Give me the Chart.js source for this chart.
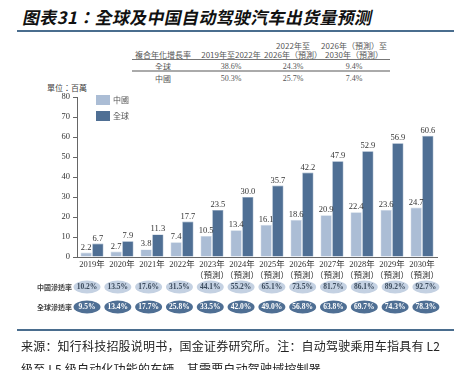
<!DOCTYPE html>
<html>
<head>
<meta charset="utf-8">
<script src="https://cdn.jsdelivr.net/npm/chart.js@4.4.0/dist/chart.umd.min.js"></script>
<style>
body { margin:0; width:454px; height:370px; overflow:hidden; background:#fff; position:relative; font-family:"Noto Sans CJK TC","Noto Sans",sans-serif; }
#wrap { position:absolute; left:0; top:0; width:454px; height:370px; }
.t { position:absolute; white-space:nowrap; color:#555; font-size:8px; line-height:9px; }
.c { transform:translateX(-50%); text-align:center; }
.serif { font-family:"Liberation Serif","Noto Sans CJK TC",serif; }
#title { position:absolute; left:21px; top:4px; font-size:17px; font-weight:bold; color:#111; letter-spacing:0.3px; transform:skewX(-12deg); transform-origin:left bottom; white-space:nowrap; }
.hr { position:absolute; }
#foot { position:absolute; left:21px; top:334px; font-size:12px; color:#222; line-height:23px; letter-spacing:0.2px; white-space:nowrap; font-family:"Noto Sans CJK SC",sans-serif; }
</style>
</head>
<body>
<div id="title">图表31：全球及中国自动驾驶汽车出货量预测</div>
<div class="hr" style="left:17px;top:30px;width:437px;height:2px;background:#4a6d8e;"></div>

<div class="t c" style="left:163px;top:50px;">複合年化增長率</div>
<div class="t c" style="left:231px;top:50px;">2019年至2022年</div>
<div class="t c" style="left:293px;top:41px;">2022年至<br>2026年（預測）</div>
<div class="t c" style="left:354px;top:41px;">2026年（預測）至<br>2030年（預測）</div>
<div class="hr" style="left:132px;top:59px;width:258px;height:1px;background:#777;"></div>
<div class="t c" style="left:163px;top:62px;">全球</div>
<div class="t c serif" style="left:231px;top:62px;">38.6%</div>
<div class="t c serif" style="left:293px;top:62px;">24.3%</div>
<div class="t c serif" style="left:354px;top:62px;">9.4%</div>
<div class="hr" style="left:132px;top:70px;width:258px;height:2px;background:#aaa;"></div>
<div class="t c" style="left:163px;top:74px;">中國</div>
<div class="t c serif" style="left:231px;top:74px;">50.3%</div>
<div class="t c serif" style="left:293px;top:74px;">25.7%</div>
<div class="t c serif" style="left:354px;top:74px;">7.4%</div>
<div class="t" style="left:47px;top:83px;color:#444;">單位：百萬</div>

<div id="wrap"><canvas id="chart" width="454" height="370"></canvas></div>

<div class="hr" style="left:17px;top:329px;width:437px;height:1.5px;background:#4a6d8e;"></div>
<div id="foot">来源：知行科技招股说明书，国金证券研究所。注：自动驾驶乘用车指具有 L2<br>级至 L5 级自动化功能的车辆，其需要自动驾驶域控制器。</div>

<script>
var years = [["2019年"], ["2020年"], ["2021年"], ["2022年"],
    ["2023年", "（預測）"], ["2024年", "（預測）"], ["2025年", "（預測）"], ["2026年", "（預測）"],
    ["2027年", "（預測）"], ["2028年", "（預測）"], ["2029年", "（預測）"], ["2030年", "（預測）"]];
var chinaShip = [2.2, 2.7, 3.8, 7.4, 10.5, 13.4, 16.1, 18.6, 20.9, 22.4, 23.6, 24.7];
var globalShip = [6.7, 7.9, 11.3, 17.7, 23.5, 30.0, 35.7, 42.2, 47.9, 52.9, 56.9, 60.6];
var chinaRate = ["10.2%", "13.5%", "17.6%", "31.5%", "44.1%", "55.2%", "65.1%", "73.5%", "81.7%", "86.1%", "89.2%", "92.7%"];
var globalRate = ["9.5%", "13.4%", "17.7%", "25.8%", "33.5%", "42.0%", "49.0%", "56.8%", "63.8%", "69.7%", "74.3%", "78.3%"];
var seriesNames = ["中國", "全球"];

var lightBlue = "#abbdd5";
var darkBlue = "#4f6f94";
var serif = "'Liberation Serif', 'Noto Sans CJK TC', serif";

var extras = {
    id: 'extras',
    afterDatasetsDraw: function(chart) {
        var ctx = chart.ctx;
        ctx.save();
        // value labels
        ctx.font = "8.5px " + serif;
        ctx.fillStyle = "#333";
        ctx.textAlign = "center";
        ctx.textBaseline = "bottom";
        chart.data.datasets.forEach(function(ds, di) {
            chart.getDatasetMeta(di).data.forEach(function(bar, i) {
                ctx.fillText(ds.data[i].toFixed(1), bar.x, bar.y - 1);
            });
        });
        // legend
        var colors = [lightBlue, darkBlue];
        ctx.font = "8px 'Noto Sans CJK TC', sans-serif";
        ctx.textAlign = "left";
        ctx.textBaseline = "middle";
        seriesNames.forEach(function(n, k) {
            var y = 95 + k * 16;
            ctx.fillStyle = colors[k];
            ctx.fillRect(96, y, 14, 10);
            ctx.fillStyle = "#555";
            ctx.fillText(n, 113, y + 5);
        });
        // penetration pills, slightly wider spread than the bar groups
        var xs = chart.scales.x;
        var x0 = xs.getPixelForValue(0);
        var rows = [
            { label: "中國滲透率", vals: chinaRate, y: 287, fill: "#c4d1e2", txt: "#3a4a5c" },
            { label: "全球滲透率", vals: globalRate, y: 307, fill: darkBlue, txt: "#fff" }
        ];
        rows.forEach(function(r) {
            ctx.font = "bold 7px 'Noto Sans CJK TC', sans-serif";
            ctx.fillStyle = "#444";
            ctx.textAlign = "right";
            ctx.fillText(r.label, 72, r.y);
            ctx.font = "bold 7.5px " + serif;
            ctx.textAlign = "center";
            r.vals.forEach(function(v, i) {
                var x = x0 - 5 + (xs.getPixelForValue(i) - x0) * 1.027;
                ctx.beginPath();
                ctx.ellipse(x, r.y, 13.5, 6.5, 0, 0, Math.PI * 2);
                ctx.fillStyle = r.fill;
                ctx.fill();
                ctx.fillStyle = r.txt;
                ctx.fillText(v, x, r.y + 0.5);
            });
        });
        ctx.restore();
    }
};

new Chart(document.getElementById('chart'), {
    type: 'bar',
    data: {
        labels: years,
        datasets: [
            { label: seriesNames[0], data: chinaShip, backgroundColor: lightBlue, borderColor: "#c9d5e4", borderWidth: 0.6 },
            { label: seriesNames[1], data: globalShip, backgroundColor: darkBlue, borderColor: "#8aa2bd", borderWidth: 0.6 }
        ]
    },
    options: {
        responsive: false,
        animation: false,
        layout: { padding: { left: 0, right: 17, top: 97, bottom: 0 } },
        datasets: { bar: { categoryPercentage: 0.78, barPercentage: 0.96 } },
        plugins: { legend: { display: false }, tooltip: { enabled: false } },
        scales: {
            x: {
                grid: { display: false, drawTicks: false },
                border: { color: "#666", width: 1 },
                ticks: { color: "#333", font: { family: serif, size: 8.5, lineHeight: 1.2 }, padding: 3, maxRotation: 0, autoSkip: false },
                afterFit: function(s) { s.height = 113; }
            },
            y: {
                min: 0, max: 80,
                ticks: { stepSize: 10, color: "#333", font: { family: serif, size: 8.5 }, padding: 3 },
                grid: { drawOnChartArea: false, tickLength: 4, color: "#666" },
                border: { color: "#666", width: 1 },
                afterFit: function(s) { s.width = 77; }
            }
        }
    },
    plugins: [extras]
});
</script>
</body>
</html>
